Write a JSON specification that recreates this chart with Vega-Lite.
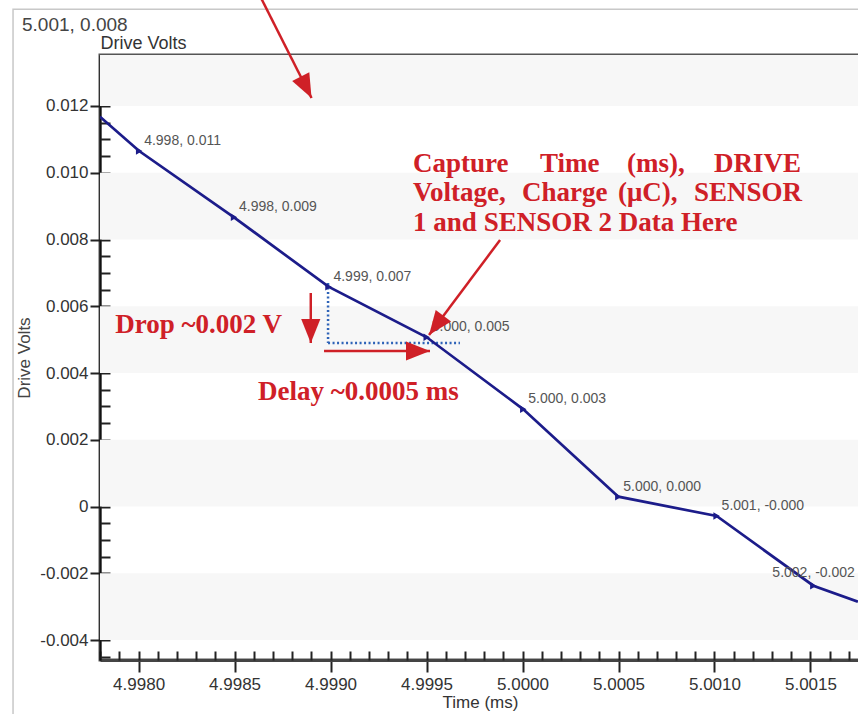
{
  "$schema": "https://vega.github.io/schema/vega-lite/v6.json",
  "width": 760,
  "height": 605,
  "autosize": "none",
  "padding": {"left": 100, "top": 55, "right": 0, "bottom": 54},
  "background": "white",
  "config": {
    "view": {"stroke": "#555555", "strokeWidth": 3},
    "font": "Liberation Sans"
  },
  "title": {
    "text": "5.001, 0.008",
    "anchor": "start",
    "frame": "group",
    "dx": -78,
    "dy": 60,
    "baseline": "alphabetic",
    "fontSize": 19,
    "fontWeight": "normal",
    "color": "#444444",
    "font": "Liberation Sans"
  },
  "datasets": {
    "trace": [
      {"t": 4.997799, "v": 0.011679, "label": ""},
      {"t": 4.998003, "v": 0.010652, "label": "4.998, 0.011"},
      {"t": 4.998497, "v": 0.008665, "label": "4.998, 0.009"},
      {"t": 4.998989, "v": 0.006586, "label": "4.999, 0.007"},
      {"t": 4.999501, "v": 0.005070, "label": "5.000, 0.005"},
      {"t": 5.000004, "v": 0.002912, "label": "5.000, 0.003"},
      {"t": 5.000499, "v": 0.000294, "label": "5.000, 0.000"},
      {"t": 5.001011, "v": -0.000285, "label": "5.001, -0.000"},
      {"t": 5.001515, "v": -0.002373, "label": "5.002, -0.002"},
      {"t": 5.001747, "v": -0.002852, "label": ""}
    ],
    "bands": [
      {"lo": 0.012, "hi": 0.014},
      {"lo": 0.008, "hi": 0.010},
      {"lo": 0.004, "hi": 0.006},
      {"lo": 0.000, "hi": 0.002},
      {"lo": -0.004, "hi": -0.002}
    ],
    "panel": [
      {"t0": 4.997346, "v0": 0.014897, "t1": 5.0026, "v1": -0.0078}
    ],
    "guides": [
      {"t0": 4.998987, "v0": 0.006697, "t1": 4.998987, "v1": 0.004899},
      {"t0": 4.998987, "v0": 0.004899, "t1": 4.999674, "v1": 0.004899}
    ],
    "arrows": [
      {"t0": 4.998630, "v0": 0.015326, "t1": 4.998901, "v1": 0.012240},
      {"t0": 4.999883, "v0": 0.007985, "t1": 4.999513, "v1": 0.005139},
      {"t0": 4.998897, "v0": 0.006397, "t1": 4.998897, "v1": 0.004899},
      {"t0": 4.998966, "v0": 0.004659, "t1": 4.999518, "v1": 0.004659}
    ],
    "words": [
      {"t": 4.999430, "v": 0.010022, "txt": "Capture"},
      {"t": 5.000091, "v": 0.010022, "txt": "Time"},
      {"t": 5.000544, "v": 0.010022, "txt": "(ms),"},
      {"t": 5.001451, "v": 0.010022, "txt": "DRIVE"},
      {"t": 4.999430, "v": 0.009154, "txt": "Voltage,"},
      {"t": 4.999997, "v": 0.009154, "txt": "Charge"},
      {"t": 5.000497, "v": 0.009154, "txt": "(μC),"},
      {"t": 5.001456, "v": 0.009154, "txt": "SENSOR"},
      {"t": 4.999430, "v": 0.008255, "txt": "1 and SENSOR 2 Data Here"},
      {"t": 4.997878, "v": 0.005198, "txt": "Drop ~0.002 V"},
      {"t": 4.998622, "v": 0.003206, "txt": "Delay ~0.0005 ms"}
    ]
  },
  "resolve": {"axis": {"x": "independent", "y": "independent"}},
  "layer": [
    {
      "data": {"name": "panel"},
      "mark": {"type": "rect", "fill": null, "fillOpacity": 0, "stroke": "#c8c8c8", "strokeWidth": 1.5, "clip": false},
      "encoding": {
        "x": {"field": "t0", "type": "quantitative", "axis": null},
        "y": {"field": "v0", "type": "quantitative", "axis": null},
        "x2": {"field": "t1"},
        "y2": {"field": "v1"}
      }
    },
    {
      "data": {"name": "bands"},
      "mark": {"type": "rect", "color": "#f7f7f7", "clip": true},
      "encoding": {
        "y": {"field": "lo", "type": "quantitative", "scale": {"domain": [-0.004599, 0.013528], "nice": false, "zero": false}, "axis": null},
        "y2": {"field": "hi"}
      }
    },
    {
      "data": {"name": "guides"},
      "mark": {"type": "rule", "color": "#2e63b8", "strokeWidth": 2.5, "strokeDash": [2, 2.5]},
      "encoding": {
        "x": {"field": "t0", "type": "quantitative", "axis": null},
        "y": {"field": "v0", "type": "quantitative", "axis": null},
        "x2": {"field": "t1"},
        "y2": {"field": "v1"}
      }
    },
    {
      "data": {"name": "trace"},
      "mark": {"type": "line", "color": "#1c1c8a", "strokeWidth": 2.7, "clip": true},
      "encoding": {
        "x": {
          "field": "t", "type": "quantitative",
          "scale": {"domain": [4.997799, 5.001758], "nice": false, "zero": false},
          "axis": {
            "orient": "bottom",
            "values": [4.998, 4.9985, 4.999, 4.9995, 5.0, 5.0005, 5.001, 5.0015],
            "format": ".4f",
            "grid": false,
            "domain": true, "domainColor": "#444444", "domainWidth": 3,
            "ticks": true, "tickSize": 12, "tickWidth": 2, "tickColor": "#222222",
            "labelFont": "Liberation Sans", "labelFontSize": 17, "labelColor": "#333333", "labelPadding": 4,
            "labelFlush": false, "labelOverlap": false,
            "title": "Time (ms)", "titleFont": "Liberation Sans", "titleFontSize": 17, "titleFontWeight": "normal",
            "titleColor": "#333333", "titlePadding": 2
          }
        },
        "y": {
          "field": "v", "type": "quantitative",
          "scale": {"domain": [-0.004599, 0.013528], "nice": false, "zero": false},
          "axis": {
            "orient": "left",
            "values": [-0.004, -0.002, 0, 0.002, 0.004, 0.006, 0.008, 0.01, 0.012],
            "labelExpr": "datum.value == 0 ? '0' : replace(format(datum.value, '.3f'), '−', '-')",
            "grid": false,
            "domain": true, "domainColor": "#111111", "domainWidth": 2,
            "ticks": true, "tickSize": 10, "tickWidth": 2, "tickColor": "#222222",
            "labelFont": "Liberation Sans", "labelFontSize": 17, "labelColor": "#333333", "labelPadding": 2,
            "title": "Drive Volts", "titleFont": "Liberation Sans", "titleFontSize": 17, "titleFontWeight": "normal",
            "titleColor": "#444444", "titlePadding": 6
          }
        }
      }
    },
    {
      "data": {"name": "trace"},
      "transform": [{"filter": "datum.label != ''"}],
      "mark": {"type": "point", "shape": "triangle-right", "filled": true, "size": 55, "color": "#1c1c8a", "opacity": 1},
      "encoding": {
        "x": {
          "field": "t", "type": "quantitative",
          "axis": {
            "orient": "bottom", "offset": -9,
            "values": [4.9978, 4.9979, 4.998, 4.9981, 4.9982, 4.9983, 4.9984, 4.9985, 4.9986, 4.9987, 4.9988, 4.9989, 4.999, 4.9991, 4.9992, 4.9993, 4.9994, 4.9995, 4.9996, 4.9997, 4.9998, 4.9999, 5.0, 5.0001, 5.0002, 5.0003, 5.0004, 5.0005, 5.0006, 5.0007, 5.0008, 5.0009, 5.001, 5.0011, 5.0012, 5.0013, 5.0014, 5.0015, 5.0016, 5.0017],
            "grid": false, "domain": false, "labels": false,
            "ticks": true, "tickSize": 9, "tickWidth": 2, "tickColor": "#222222",
            "title": null
          }
        },
        "y": {
          "field": "v", "type": "quantitative",
          "axis": {
            "orient": "left", "offset": -10,
            "values": [-0.0045, -0.004, -0.0035, -0.003, -0.0025, -0.002, -0.0015, -0.001, -0.0005, 0, 0.0005, 0.001, 0.0015, 0.002, 0.0025, 0.003, 0.0035, 0.004, 0.0045, 0.005, 0.0055, 0.006, 0.0065, 0.007, 0.0075, 0.008, 0.0085, 0.009, 0.0095, 0.01, 0.0105, 0.011, 0.0115, 0.012, 0.0125, 0.013],
            "grid": false, "domain": false, "labels": false,
            "ticks": true, "tickSize": 10, "tickWidth": 2, "tickColor": "#222222",
            "title": "Drive Volts", "titleAngle": 0, "titleAlign": "left", "titleBaseline": "alphabetic",
            "titleX": -10, "titleY": -7,
            "titleFont": "Liberation Sans", "titleFontSize": 18, "titleFontWeight": "normal", "titleColor": "#333333"
          }
        }
      }
    },
    {
      "data": {"name": "trace"},
      "transform": [{"filter": "datum.label != '' && datum.t < 5.0015"}],
      "mark": {"type": "text", "align": "left", "baseline": "alphabetic", "dx": 5, "dy": -6, "fontSize": 14, "font": "Liberation Sans", "color": "#555555"},
      "encoding": {
        "x": {"field": "t", "type": "quantitative", "axis": null},
        "y": {"field": "v", "type": "quantitative", "axis": null},
        "text": {"field": "label"}
      }
    },
    {
      "data": {"name": "trace"},
      "transform": [{"filter": "datum.label != '' && datum.t >= 5.0015"}],
      "mark": {"type": "text", "align": "left", "baseline": "alphabetic", "dx": -41, "dy": -9, "fontSize": 14, "font": "Liberation Sans", "color": "#555555"},
      "encoding": {
        "x": {"field": "t", "type": "quantitative", "axis": null},
        "y": {"field": "v", "type": "quantitative", "axis": null},
        "text": {"field": "label"}
      }
    },
    {
      "data": {"name": "arrows"},
      "mark": {"type": "rule", "color": "#cf2027", "strokeWidth": 2.5, "clip": false},
      "encoding": {
        "x": {"field": "t0", "type": "quantitative", "axis": null},
        "y": {"field": "v0", "type": "quantitative", "axis": null},
        "x2": {"field": "t1"},
        "y2": {"field": "v1"}
      }
    },
    {
      "data": {"name": "arrows"},
      "mark": {
        "type": "point",
        "shape": "M0,0 L0.8,2 L-0.8,2 Z",
        "filled": true,
        "size": 576,
        "color": "#cf2027",
        "opacity": 1,
        "angle": {"expr": "atan2(scale('x', datum.t1) - scale('x', datum.t0), scale('y', datum.v0) - scale('y', datum.v1)) * 180 / PI"}
      },
      "encoding": {
        "x": {"field": "t1", "type": "quantitative", "axis": null},
        "y": {"field": "v1", "type": "quantitative", "axis": null}
      }
    },
    {
      "data": {"name": "words"},
      "transform": [{"filter": "datum.txt != 'DRIVE' && datum.txt != 'SENSOR'"}],
      "mark": {"type": "text", "align": "left", "baseline": "alphabetic", "font": "Liberation Serif", "fontWeight": "bold", "fontSize": 27, "color": "#cf2027"},
      "encoding": {
        "x": {"field": "t", "type": "quantitative", "axis": null},
        "y": {"field": "v", "type": "quantitative", "axis": null},
        "text": {"field": "txt"}
      }
    },
    {
      "data": {"name": "words"},
      "transform": [{"filter": "datum.txt == 'DRIVE' || datum.txt == 'SENSOR'"}],
      "mark": {"type": "text", "align": "right", "baseline": "alphabetic", "font": "Liberation Serif", "fontWeight": "bold", "fontSize": 27, "color": "#cf2027"},
      "encoding": {
        "x": {"field": "t", "type": "quantitative", "axis": null},
        "y": {"field": "v", "type": "quantitative", "axis": null},
        "text": {"field": "txt"}
      }
    }
  ]
}
